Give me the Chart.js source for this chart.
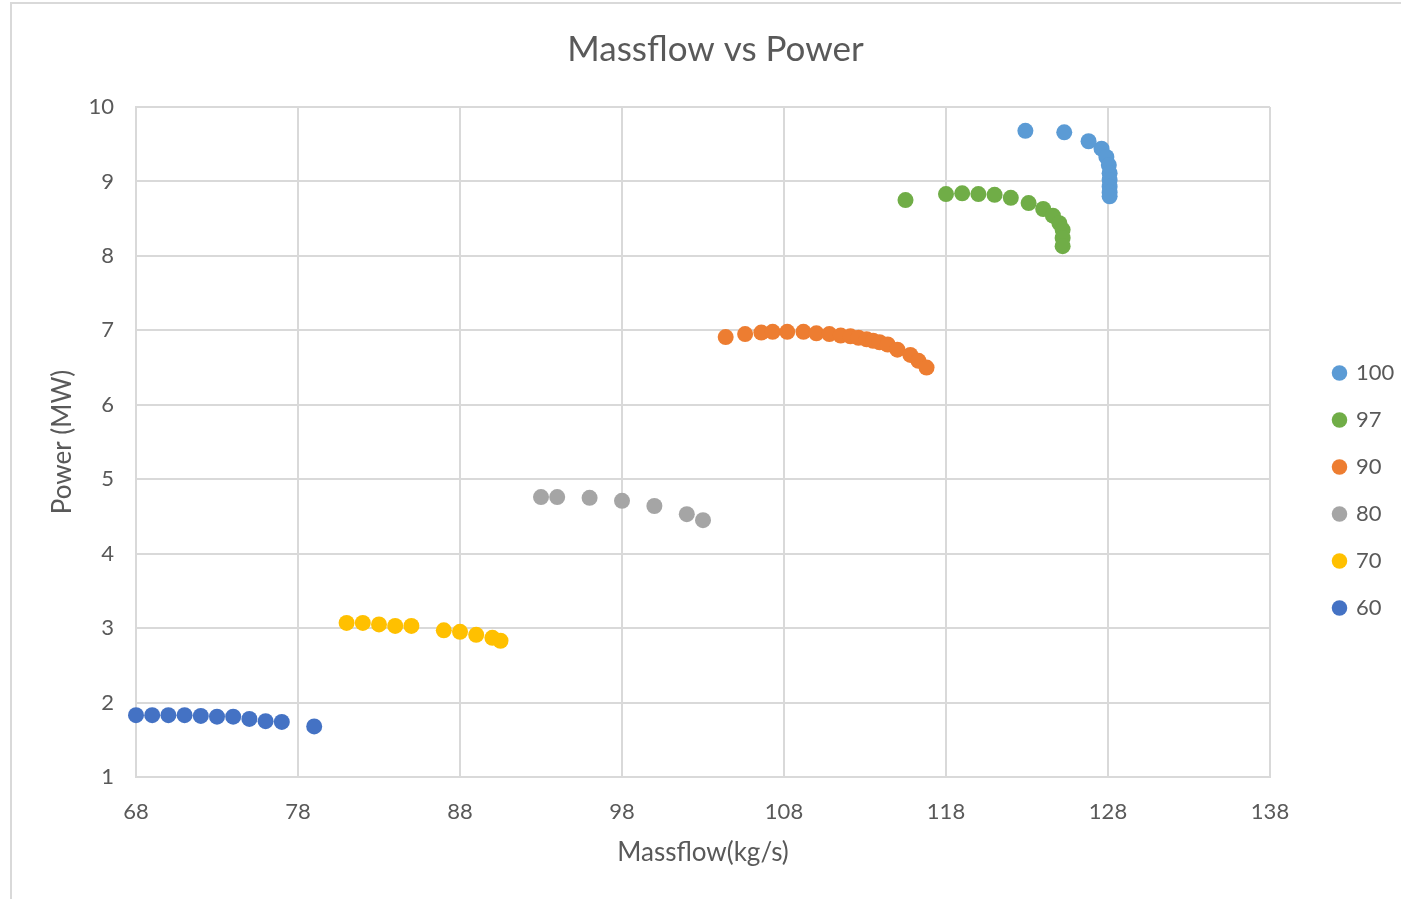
<!DOCTYPE html>
<html>
<head>
<meta charset="utf-8">
<script src="https://cdn.jsdelivr.net/npm/chart.js@4/dist/chart.umd.min.js"></script>
<style>
    html, body { margin: 0; padding: 0; background: #fff; }
    #frame { position: absolute; left: 10px; top: 2px; width: 1400px; height: 900px;
             border-left: 2px solid #d9d9d9; border-top: 2px solid #d9d9d9; }
    #wrap { position: absolute; left: 0; top: 0; width: 1401px; height: 899px; }
</style>
</head>
<body>
<div id="frame"></div>
<div id="wrap"><canvas id="massflowChart"></canvas></div>
<script>
// series labels, in legend order
const seriesNames = ['100', '97', '90', '80', '70', '60'];
const seriesColors = ['#5B9BD5', '#70AD47', '#ED7D31', '#A5A5A5', '#FFC000', '#4472C4'];

// massflow (kg/s) per series
const flow100 = [122.9, 125.3, 126.8, 127.6, 127.9, 128.05, 128.1, 128.1, 128.1, 128.1, 128.1];
const flow97 = [115.5, 118.0, 119.0, 120.0, 121.0, 122.0, 123.1, 124.0, 124.6, 125.0, 125.2, 125.2, 125.2];
const flow90 = [104.4, 105.6, 106.6, 107.3, 108.2, 109.2, 110.0, 110.8, 111.5, 112.1, 112.6, 113.1, 113.5, 113.9, 114.4, 115.0, 115.8, 116.3, 116.8];
const flow80 = [93.0, 94.0, 96.0, 98.0, 100.0, 102.0, 103.0];
const flow70 = [81.0, 82.0, 83.0, 84.0, 85.0, 87.0, 88.0, 89.0, 90.0, 90.5];
const flow60 = [68.0, 69.0, 70.0, 71.0, 72.0, 73.0, 74.0, 75.0, 76.0, 77.0, 79.0];

// power (MW) per series
const power100 = [9.68, 9.66, 9.54, 9.44, 9.33, 9.22, 9.11, 9.02, 8.93, 8.85, 8.80];
const power97 = [8.75, 8.83, 8.84, 8.83, 8.82, 8.78, 8.71, 8.63, 8.54, 8.44, 8.35, 8.24, 8.13];
const power90 = [6.91, 6.95, 6.97, 6.98, 6.98, 6.98, 6.96, 6.95, 6.93, 6.92, 6.90, 6.88, 6.86, 6.84, 6.81, 6.74, 6.67, 6.59, 6.50];
const power80 = [4.76, 4.76, 4.75, 4.71, 4.64, 4.53, 4.45];
const power70 = [3.07, 3.07, 3.05, 3.03, 3.03, 2.97, 2.95, 2.91, 2.87, 2.83];
const power60 = [1.83, 1.83, 1.83, 1.83, 1.82, 1.81, 1.81, 1.78, 1.75, 1.74, 1.68];

const flows = [flow100, flow97, flow90, flow80, flow70, flow60];
const powers = [power100, power97, power90, power80, power70, power60];

const textColor = '#595959';
const gridColor = '#d9d9d9';
const fontFamily = 'Lato, "Open Sans", sans-serif';

const datasets = seriesNames.map((name, i) => ({
    label: name,
    data: flows[i].map((x, j) => ({ x: x, y: powers[i][j] })),
    backgroundColor: seriesColors[i],
    borderColor: seriesColors[i],
    borderWidth: 0,
    pointRadius: 8,
    pointHoverRadius: 8,
    pointStyle: 'circle',
    clip: false
}));

// fix the legend width so the plot ends where it does in the reference,
// then nudge the title and legend into place
const legendPlace = {
    id: 'legendPlace',
    beforeInit(chart) {
        const lg = chart.legend;
        if (!lg) return;
        const fit = lg.fit.bind(lg);
        lg.fit = function () { fit(); this.width = 131; };
    },
    afterLayout(chart) {
        const lg = chart.legend;
        if (lg) {
            lg.left = 1309;
            lg.right = 1401;
            lg.top += 41;
            lg.bottom += 41;
        }
        const tb = chart.titleBlock;
        if (tb) {
            tb.left += 15;
            tb.right += 15;
        }
    }
};

const ctx = document.getElementById('massflowChart').getContext('2d');

new Chart(ctx, {
    type: 'scatter',
    data: { datasets: datasets },
    options: {
        responsive: true,
        maintainAspectRatio: false,
        animation: false,
        layout: { padding: 0 },
        plugins: {
            title: {
                display: true,
                text: 'Massflow vs Power',
                color: textColor,
                font: { family: fontFamily, size: 35, weight: 'normal' },
                padding: { top: 29, bottom: 36 }
            },
            legend: {
                position: 'right',
                labels: {
                    usePointStyle: true,
                    pointStyle: 'circle',
                    boxWidth: 11,
                    boxHeight: 11,
                    padding: 25,
                    color: textColor,
                    font: { family: fontFamily, size: 22 }
                }
            },
            tooltip: { enabled: false }
        },
        scales: {
            x: {
                type: 'linear',
                min: 68,
                max: 138,
                ticks: { stepSize: 10, color: textColor, padding: 22,
                         font: { family: fontFamily, size: 22 } },
                grid: { color: gridColor, lineWidth: 2, drawTicks: false },
                border: { color: gridColor, width: 2 },
                title: { display: true, text: 'Massflow(kg/s)', color: textColor,
                         font: { family: fontFamily, size: 26 }, padding: { top: 31, bottom: 31 } },
                afterFit(scale) { scale.height = 122; }
            },
            y: {
                type: 'linear',
                min: 1,
                max: 10,
                ticks: { stepSize: 1, color: textColor, padding: 22,
                         font: { family: fontFamily, size: 22 } },
                grid: { color: gridColor, lineWidth: 2, drawTicks: false },
                border: { color: gridColor, width: 2 },
                title: { display: true, text: 'Power (MW)', color: textColor,
                         font: { family: fontFamily, size: 26 }, padding: { top: 47, bottom: 47 } },
                afterFit(scale) { scale.width = 136; }
            }
        }
    },
    plugins: [legendPlace]
});
</script>
</body>
</html>
